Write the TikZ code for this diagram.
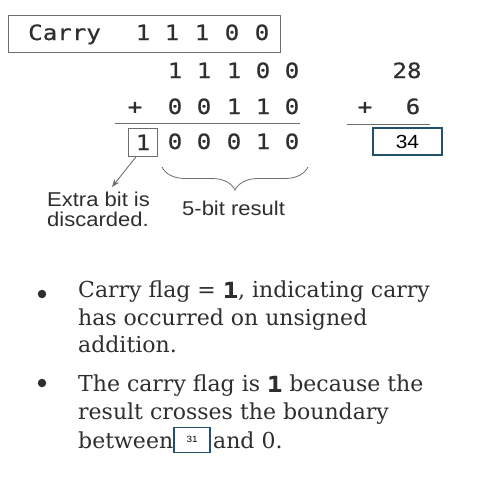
\documentclass[tikz,border=0pt]{standalone}
\usepackage{fontspec}
\setmainfont{DejaVu Serif}
\newfontfamily\monofont{DejaVu Sans Mono}[FakeStretch=1.15, FakeBold=0.6]
\newfontfamily\notefont{Liberation Sans}[FakeStretch=1.1]
\usetikzlibrary{arrows.meta, positioning, decorations.pathreplacing}
\definecolor{inkgray}{HTML}{2E2E2E}
\definecolor{rulegray}{HTML}{6E6E6E}
\definecolor{boxblue}{HTML}{24506E}

\begin{document}
\begin{tikzpicture}[x=1pt, y=-1pt,
  digit/.style={font=\monofont\fontsize{21}{21}\selectfont, text=inkgray, inner sep=0pt, anchor=base},
  note/.style={font=\notefont\fontsize{20}{20}\selectfont, text=inkgray, inner sep=0pt, align=left},
  valbox/.style={draw=boxblue, line width=1.6pt, inner sep=0pt, text=black},
  bodytext/.style={font=\fontsize{22}{27.5}\selectfont, text=inkgray, inner sep=0pt, align=left},
  bulletdot/.style={circle, fill=inkgray, inner sep=0pt, minimum size=8.5pt},
  rule/.style={rulegray, line width=0.9pt},
  arrow/.style={-{Stealth[length=8pt, width=6pt]}, rulegray, line width=0.9pt}]
  \useasboundingbox (0,0) rectangle (496,482);

  % carry row
  \node[draw=rulegray, line width=0.9pt, minimum width=272pt, minimum height=37pt,
        anchor=north west, inner sep=0pt] (carrybox) at (8,15) {};
  \node[digit, anchor=base west] (cw) at (28,40) {Carry};
  \foreach \x/\d [count=\i] in {143/1, 172/1, 202/1, 232/0, 262/0}
    \node[digit] (c\i) at (\x,40) {\d};

  % binary sum
  \foreach \x/\d [count=\i] in {175/1, 204/1, 234/1, 263/0, 292/0}
    \node[digit] (a\i) at (\x,78) {\d};
  \node[digit] (plus) at (135,114) {+};
  \foreach \x/\d [count=\i] in {175/0, 204/0, 234/1, 263/1, 292/0}
    \node[digit] (b\i) at (\x,114) {\d};
  \draw[rule] (115,123) -- (300,123);
  \node[digit, draw=rulegray, line width=0.9pt, minimum width=29pt, minimum height=28pt] (s0) at (143,150) {1};
  \foreach \x/\d [count=\i] in {175/0, 204/0, 234/0, 263/1, 292/0}
    \node[digit] (s\i) at (\x,149) {\d};

  % decimal sum
  \node[digit] (dec1) at (407,78) {28};
  \node[digit] (dplus) at (365,114) {+};
  \node[digit] (dec2) at (413,114) {6};
  \draw[rule] (347,124) -- (430,124);
  \node[valbox, font=\notefont\fontsize{19}{19}\selectfont, minimum width=69pt, minimum height=27pt] (dsum) at (407.5,141.5) {34};

  % notes under the sum
  \coordinate (dtip) at (112,187);
  \node[note, anchor=north west] (extra) at (47,192) {Extra bit is\\discarded.};
  \draw[arrow] ([xshift=-7pt]s0.south) -- (dtip);
  \node[note, anchor=base west] (five) at (182,215) {5-bit result};
  \draw[rule, line width=0.8pt, decorate, decoration={brace, mirror, amplitude=23pt}] (162,167) -- (308,167);

  % bullets
  \node[bulletdot] (d1) at (42,294) {};
  \node[bodytext, anchor=north west] (t1) at (78,281)
    {Carry flag = {\monofont\bfseries 1}, indicating carry\\has occurred on unsigned\\addition.};
  \node[bulletdot] (d2) at (42,383) {};
  \node[bodytext, anchor=north west] (t2) at (78,375)
    {The carry flag is {\monofont\bfseries 1} because the\\result crosses the boundary};
  \node[bodytext, anchor=base west] (tbtw) at (78,448) {between};
  \node[valbox, font=\notefont\fontsize{9}{9}\selectfont, minimum width=36pt, minimum height=25pt, right=0pt of tbtw] (v31) {31};
  \node[bodytext, right=2pt of v31] (tand) {and 0.};
\end{tikzpicture}
\end{document}
